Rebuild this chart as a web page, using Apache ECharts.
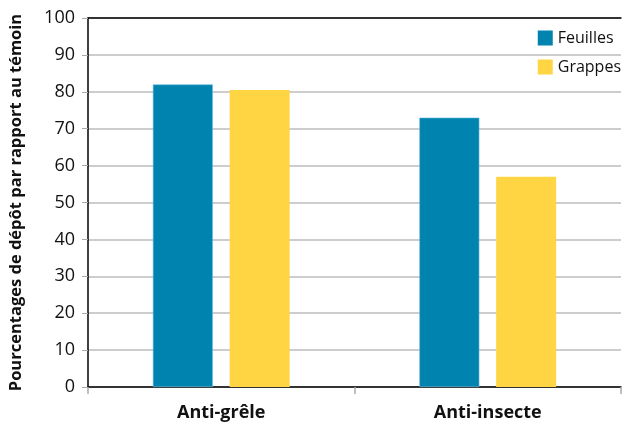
<!DOCTYPE html>
<html>
<head>
<meta charset="utf-8">
<script src="https://cdn.jsdelivr.net/npm/echarts@6/dist/echarts.min.js"></script>
<style>
  html, body { margin: 0; padding: 0; background: #fff; }
  #chart { width: 624px; height: 425px; }
</style>
</head>
<body>
<div id="chart"></div>
<script>
// Traitements comparés
const categories = ['Anti-grêle', 'Anti-insecte'];
// Pourcentages de dépôt par rapport au témoin
const feuilles = [82, 73];
const grappes = [80.5, 57];
const yTicks = { min: 0, max: 100, interval: 10 };

const FONT = '"Open Sans", "Noto Sans", sans-serif';

const chart = echarts.init(document.getElementById('chart'), null, { renderer: 'canvas' });

chart.setOption({
  animation: false,
  backgroundColor: '#ffffff',
  textStyle: { fontFamily: FONT },
  grid: { left: 86, right: 3, top: 18, bottom: 38, containLabel: false },
  legend: {
    orient: 'vertical',
    right: 3,
    top: 30,
    padding: 0,
    itemWidth: 15,
    itemHeight: 15,
    itemGap: 13,
    icon: 'rect',
    itemStyle: { borderWidth: 0 },
    textStyle: { fontFamily: FONT, fontSize: 16, color: '#111' },
    data: ['Feuilles', 'Grappes']
  },
  xAxis: [
    {
      type: 'category',
      data: categories,
      axisLine: { show: true, lineStyle: { color: '#000', width: 1.5 } },
      axisTick: { show: true, length: 7, lineStyle: { color: '#aaa', width: 1.5 } },
      axisLabel: { fontFamily: FONT, fontSize: 18, fontWeight: 'bold', color: '#111', margin: 17 }
    },
    {
      type: 'category',
      position: 'top',
      data: categories,
      axisLine: { show: true, lineStyle: { color: '#000', width: 1.5 } },
      axisTick: { show: false },
      axisLabel: { show: false }
    }
  ],
  yAxis: {
    type: 'value',
    min: yTicks.min,
    max: yTicks.max,
    interval: yTicks.interval,
    name: 'Pourcentages de dépôt par rapport au témoin',
    nameLocation: 'middle',
    nameGap: 63,
    nameTextStyle: { fontFamily: FONT, fontSize: 16.5, fontWeight: 'bold', color: '#111' },
    axisLine: { show: true, lineStyle: { color: '#000', width: 1.5 } },
    axisTick: { show: true, length: 6, lineStyle: { color: '#aaa' } },
    axisLabel: { fontFamily: FONT, fontSize: 18, color: '#111', margin: 13 },
    splitLine: { show: true, lineStyle: { color: '#bdbdbd', width: 1.5 } }
  },
  series: [
    {
      name: 'Feuilles',
      type: 'bar',
      data: feuilles,
      barWidth: 60,
      barGap: '28%',
      itemStyle: { color: '#0083ae', borderColor: '#6cc0dc', borderWidth: 0.6 }
    },
    {
      name: 'Grappes',
      type: 'bar',
      data: grappes,
      barWidth: 60,
      barGap: '28%',
      itemStyle: { color: '#ffd544' }
    }
  ]
});
</script>
</body>
</html>
